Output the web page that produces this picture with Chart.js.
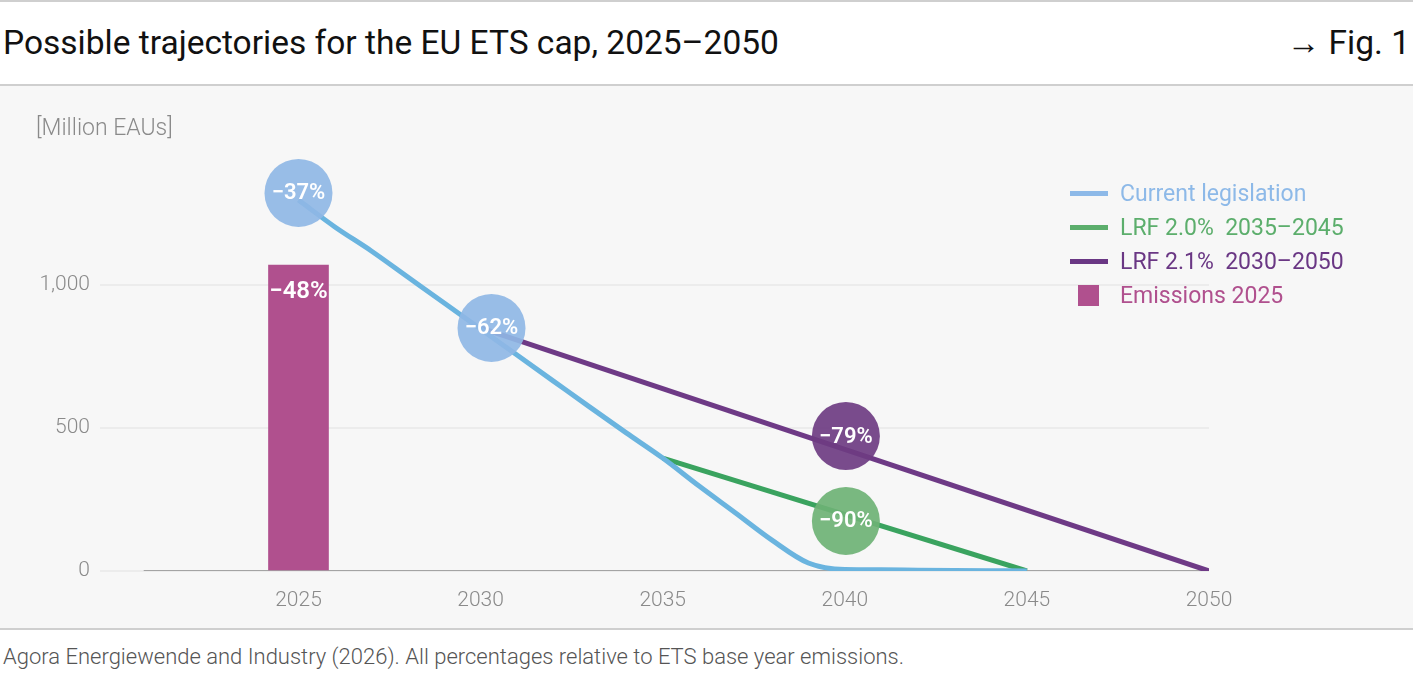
<!DOCTYPE html>
<html>
<head>
<meta charset="utf-8">
<script src="https://cdn.jsdelivr.net/npm/chart.js@4.4.1/dist/chart.umd.min.js"></script>
<style>
  body { margin: 0; width: 1413px; height: 681px; background: #fff; position: relative; overflow: hidden; font-family: Roboto, 'Noto Sans', sans-serif; }
  .rule { position: absolute; left: 0; width: 1413px; height: 2px; background: #cfcfcf; }
  #title { position: absolute; left: 3px; top: 23px; font-size: 33.5px; color: #111; white-space: nowrap; }
  #fig { position: absolute; right: 3px; top: 23px; font-size: 33.5px; color: #111; }
  #panel { position: absolute; left: 0; top: 86px; width: 1413px; height: 543px; background: #f7f7f7; }
  #unit { position: absolute; left: 36px; top: 114px; font-size: 23px; font-weight: 300; color: #8a8a8a; }
  #source { position: absolute; left: 3px; top: 644px; font-size: 22px; font-weight: 300; color: #555; white-space: nowrap; }
  #legend { position: absolute; left: 1070px; top: 176px; }
  .leg { height: 34px; display: flex; align-items: center; font-size: 23px; white-space: pre; }
  .sw { width: 38px; height: 5px; margin-right: 12px; }
  .sq { width: 21px; height: 21px; margin: 0 21px 0 8px; }
  canvas { position: absolute; left: 0; top: 86px; }
</style>
</head>
<body>
<div class="rule" style="top:0"></div>
<div id="title">Possible trajectories for the EU ETS cap, 2025–2050</div>
<div id="fig">→ Fig. 1</div>
<div class="rule" style="top:84px"></div>
<div id="panel"></div>
<div class="rule" style="top:628px"></div>
<div id="source">Agora Energiewende and Industry (2026). All percentages relative to ETS base year emissions.</div>
<canvas id="chart" width="1413" height="543"></canvas>
<div id="unit">[Million EAUs]</div>
<div id="legend">
  <div class="leg" style="color:#8db9e8"><div class="sw" style="background:#8db9e8"></div>Current legislation</div>
  <div class="leg" style="color:#5cae6c"><div class="sw" style="background:#5cae6c"></div>LRF 2.0%  2035–2045</div>
  <div class="leg" style="color:#6a3784"><div class="sw" style="background:#6a3784"></div>LRF 2.1%  2030–2050</div>
  <div class="leg" style="color:#b0508e"><div class="sq" style="background:#b0508e"></div>Emissions 2025</div>
</div>
<script>
// values, million EAUs
const capYears = [2025, 2026, 2027, 2028, 2029, 2030, 2031, 2032, 2033, 2034, 2035,
                  2036, 2037, 2038, 2039, 2040, 2041, 2042, 2043, 2044, 2045];
const currentLegislation = [1297, 1203, 1119, 1028, 937, 846, 755, 664, 573, 483, 395,
                            297, 203, 108, 28, 5, 4, 3, 2, 1, 0];
const lrf20Years = [2035, 2045];
const lrf20 = [395, 0];
const lrf21Years = [2030, 2050];
const lrf21 = [850, 0];
const emissionsYear = [2025];
const emissions = [1070];
const baselineYears = [2020.75, 2050];

const xTicks = [2025, 2030, 2035, 2040, 2045, 2050];
const yTicks = [0, 500, 1000];

// percentage badges: label, year, value
const badgeLabels = ['−37%', '−62%', '−79%', '−90%'];
const badgeYears = [2025, 2030.3, 2040.03, 2040.03];
const badgeValues = [1322, 850, 472, 175];
const badgeSeries = ['current', 'current', 'lrf21', 'lrf20'];
const barLabel = '−48%';
const barLabelValue = 975;

const COLORS = {
  current: '#6ab4df', lrf20: '#3aa35f', lrf21: '#6e3a86', bar: '#b0508e',
  badge: { current: 'rgba(143,183,229,0.92)', lrf21: 'rgba(110,60,130,0.92)', lrf20: 'rgba(110,178,117,0.92)' }
};

const pts = (xs, ys) => xs.map((x, i) => ({ x, y: ys[i] }));

const badgePlugin = {
  id: 'badges',
  afterDatasetsDraw(chart) {
    const { ctx, scales: { x, y } } = chart;
    ctx.save();
    ctx.textAlign = 'center';
    ctx.textBaseline = 'middle';
    ctx.font = '600 22px Roboto, sans-serif';
    badgeLabels.forEach((lab, i) => {
      const px = x.getPixelForValue(badgeYears[i]);
      const py = y.getPixelForValue(badgeValues[i]);
      ctx.fillStyle = COLORS.badge[badgeSeries[i]];
      ctx.beginPath();
      ctx.arc(px, py, 34, 0, Math.PI * 2);
      ctx.fill();
      ctx.fillStyle = '#fff';
      ctx.fillText(lab, px, py + 1);
    });
    ctx.font = '600 24px Roboto, sans-serif';
    ctx.fillText(barLabel, x.getPixelForValue(emissionsYear[0]), y.getPixelForValue(barLabelValue));
    ctx.restore();
  }
};

new Chart(document.getElementById('chart'), {
  data: {
    datasets: [
      { type: 'line', data: pts(capYears, currentLegislation), borderColor: COLORS.current, borderWidth: 5,
        pointRadius: 0, cubicInterpolationMode: 'monotone', order: 1 },
      { type: 'line', data: pts(lrf20Years, lrf20), borderColor: COLORS.lrf20, borderWidth: 5, pointRadius: 0, order: 2 },
      { type: 'line', data: pts(lrf21Years, lrf21), borderColor: COLORS.lrf21, borderWidth: 5, pointRadius: 0, order: 3 },
      { type: 'bar', data: pts(emissionsYear, emissions), backgroundColor: COLORS.bar, barThickness: 60, order: 5 },
      { type: 'line', data: pts(baselineYears, [0, 0]), borderColor: '#8c8c8c', borderWidth: 1.5, pointRadius: 0, order: 10 }
    ]
  },
  options: {
    responsive: false,
    animation: false,
    layout: { padding: { top: 56, right: 204, left: 0, bottom: 0 } },
    plugins: { legend: { display: false }, tooltip: { enabled: false } },
    scales: {
      x: {
        type: 'linear', min: 2019.55, max: 2050, offset: false,
        grid: { display: false }, border: { display: false },
        afterBuildTicks: s => { s.ticks = xTicks.map(v => ({ value: v })); },
        afterFit: s => { s.height = 58; },
        ticks: { callback: v => String(v), color: '#8a8a8a', font: { size: 21, family: 'Roboto', weight: 300 }, padding: 9, maxRotation: 0 }
      },
      y: {
        min: 0, max: 1500,
        grid: { color: '#ececec', lineWidth: 2, drawTicks: false }, border: { display: false },
        afterBuildTicks: s => { s.ticks = yTicks.map(v => ({ value: v })); },
        afterFit: s => { s.width = 100; },
        ticks: { callback: v => v.toLocaleString('en-US'), color: '#8a8a8a', font: { size: 21, family: 'Roboto', weight: 300 }, padding: 10 }
      }
    }
  },
  plugins: [badgePlugin]
});
</script>
</body>
</html>
